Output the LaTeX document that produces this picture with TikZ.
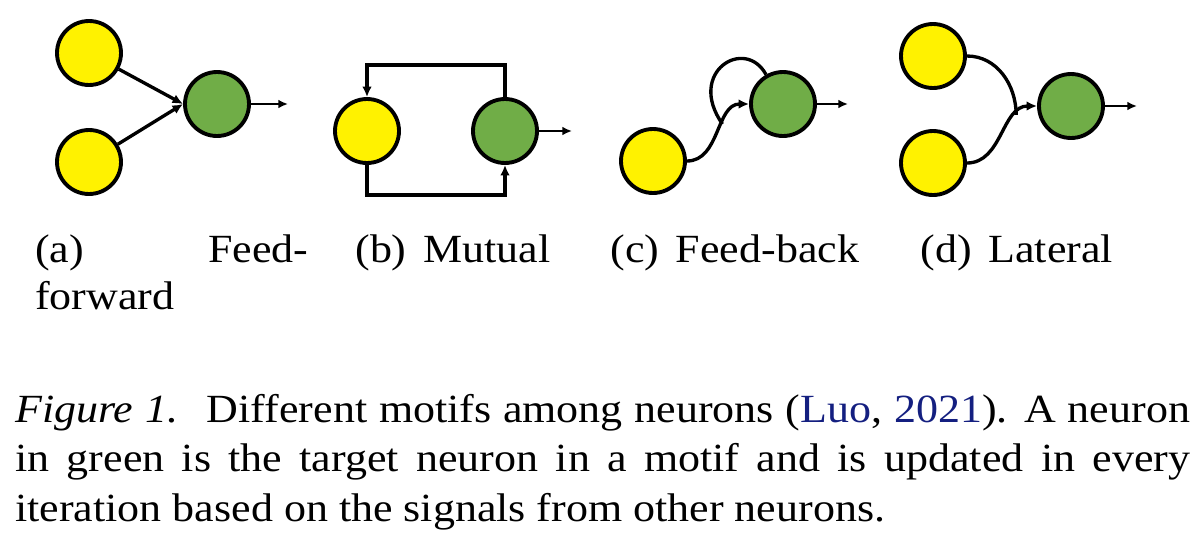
\documentclass[tikz,border=0pt]{standalone}
\usepackage{fontspec}
\setmainfont{Liberation Serif}[FakeStretch=1.1]
\usepackage{xcolor}
\usetikzlibrary{arrows.meta,
                calc}

\begin{document}
\begin{tikzpicture}[x=0.02cm,y=-0.02cm,
  neuron/.style={circle,draw=black,line width=2.2pt,minimum size=1.28cm,inner sep=0pt},
  source/.style={neuron,fill=yellow},
  target/.style={neuron,fill=targetgreen},
  wire/.style={line width=1.9pt},
  link/.style={wire,-{Latex[length=6pt,width=5.5pt]}},
  outlink/.style={line width=1.2pt,-{Latex[length=5.5pt,width=5pt]}},
  subcap/.style={inner sep=0pt,anchor=base west,font=\fontsize{22.76pt}{27.3pt}\selectfont},
  captext/.style={inner sep=0pt,anchor=base west,font=\fontsize{22.76pt}{28.45pt}\selectfont}]
\definecolor{targetgreen}{HTML}{70AD47}
\definecolor{citeblue}{rgb}{0.08,0.12,0.5}
\def\sep{\hspace{.42em}}
\useasboundingbox (0,0) rectangle (1200,548);
% (a) feed-forward
\node [source] (ya1) at (89,53) {};
\node [source] (ya2) at (89,162) {};
\node [target] (ga) at (217,104) {};
\coordinate (oa) at (288,104);
\draw [link] (ya1) -- (ga.west);
\draw [link] (ya2) -- (ga.west);
% (b) mutual
\node [source] (yb) at (367,131) {};
\node [target] (gb) at (505,131) {};
\coordinate (ob) at (572,131);
\draw [link] (gb.north) -- ++(0,-32) -| (yb.north);
\draw [link] (yb.south) -- ++(0,30) -| (gb.south);
% (c) feed-back
\node [source] (yc) at (653,161) {};
\node [target] (gc) at (783,104) {};
\coordinate (oc) at (848,104);
\draw [link] (yc.east) to [out=0,in=180] coordinate [pos=.6] (cb) (gc.west);
\draw [wire] (cb) .. controls (686,72) and (745,36) .. (gc.120);
% (d) lateral
\node [source] (yd1) at (933,56) {};
\node [source] (yd2) at (933,163) {};
\node [target] (gd) at (1071,106) {};
\coordinate (od) at (1137,106);
\draw [link] (yd2.east) to [out=0,in=180] coordinate [pos=.75] (dm) (gd.west);
\draw [wire] (yd1.east) to [out=0,in=90] (dm);
\foreach \g/\o in {ga/oa,gb/ob,gc/oc,gd/od}
  \draw [outlink] (\g) -- (\o);
% labels
\node [subcap,text width=5.46cm,align=justify] (la) at (35,262) {(a) Feed-\linebreak forward};
\node [subcap] (lb) at (355,262) {(b)\sep Mutual};
\node [subcap] (lc) at (610,262) {(c)\sep Feed-back};
\node [subcap] (ld) at (920,262) {(d)\sep Lateral};
\node [captext,text width=23.5cm,align=justify] (cap) at (15,422)
  {\textit{Figure 1.}\hspace{.3em} Different motifs among neurons (\textcolor{citeblue}{Luo}, \textcolor{citeblue}{2021}). A neuron\linebreak
   in green is the target neuron in a motif and is updated in every\linebreak
   iteration based on the signals from other neurons.};
\end{tikzpicture}
\end{document}
